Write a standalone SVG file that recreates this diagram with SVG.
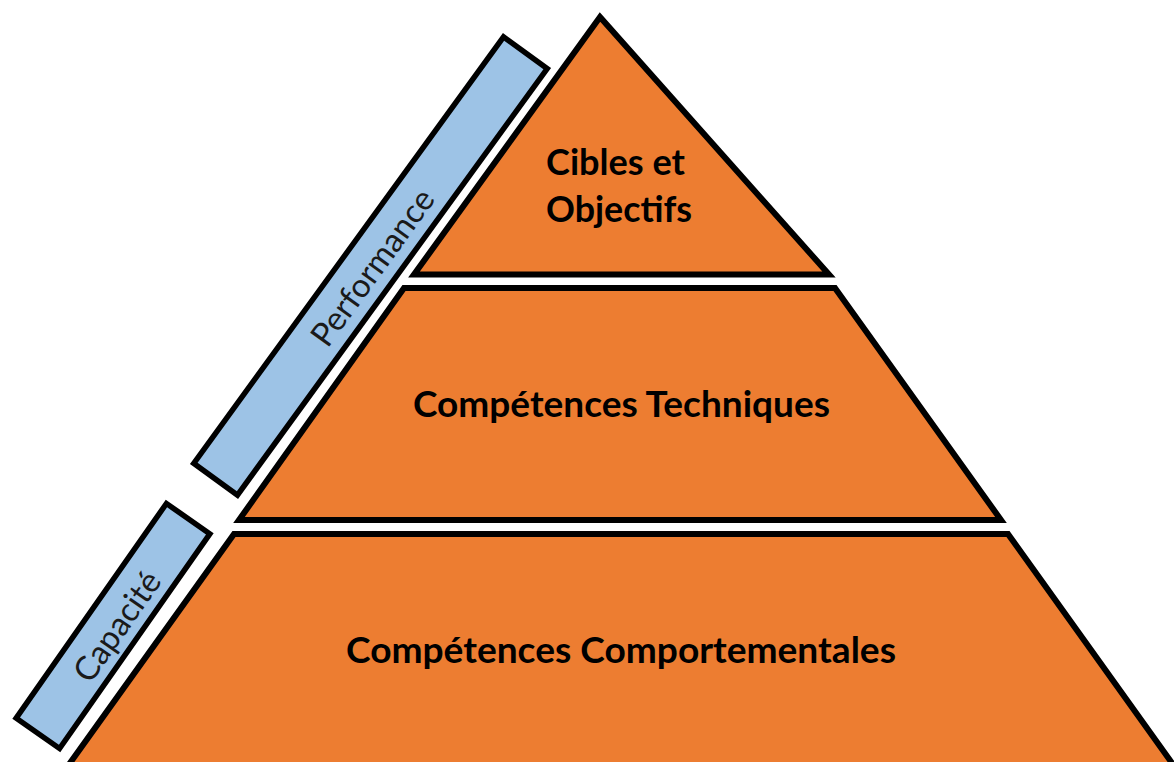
<svg xmlns="http://www.w3.org/2000/svg" width="1174" height="762" viewBox="0 0 1174 762">
  <style>
    .tier { fill: #ED7D31; stroke: #000; stroke-width: 6; stroke-linejoin: miter; stroke-miterlimit: 10; }
    .bar { fill: #9DC3E6; stroke: #000; stroke-width: 5.5; stroke-linejoin: miter; }
    .tt { font-family: Lato, "Open Sans", "Liberation Sans", sans-serif; font-weight: bold; font-size: 37px; fill: #000; }
    .bt { font-family: Lato, "Open Sans", "Liberation Sans", sans-serif; font-size: 33px; fill: #1a1a1a; text-anchor: middle; dominant-baseline: central; }
  </style>
  <rect width="1174" height="762" fill="#fff"/>
  <g id="tier-top">
    <polygon class="tier" points="600,17 829,274.5 414,274.5"/>
    <text class="tt" x="546" y="175" textLength="139" lengthAdjust="spacingAndGlyphs">Cibles et</text>
    <text class="tt" x="546" y="222" textLength="146" lengthAdjust="spacingAndGlyphs">Objectifs</text>
  </g>
  <g id="tier-middle">
    <polygon class="tier" points="404,288 835,288 1001,520 239,520"/>
    <text class="tt" x="413" y="417" textLength="417" lengthAdjust="spacingAndGlyphs">Compétences Techniques</text>
  </g>
  <g id="tier-bottom">
    <polygon class="tier" points="234,534 1008,534 1177,770 65,770"/>
    <text class="tt" x="346" y="663" textLength="550" lengthAdjust="spacingAndGlyphs">Compétences Comportementales</text>
  </g>
  <g id="bar-performance" transform="translate(370.5,266) rotate(-54)">
    <rect class="bar" x="-263.5" y="-27" width="527" height="54"/>
    <text class="bt" x="0" y="1">Performance</text>
  </g>
  <g id="bar-capacite" transform="translate(113,626) rotate(-55)">
    <rect class="bar" x="-131" y="-26.5" width="262" height="53"/>
    <text class="bt" x="2" y="2">Capacité</text>
  </g>
</svg>
